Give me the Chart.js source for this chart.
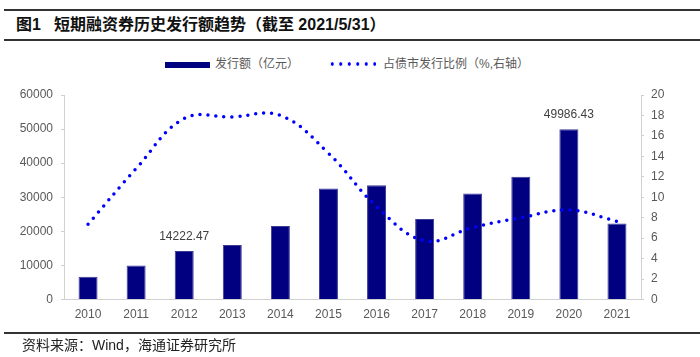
<!DOCTYPE html>
<html>
<head>
<meta charset="utf-8">
<script src="https://cdn.jsdelivr.net/npm/chart.js@4.4.1/dist/chart.umd.min.js"></script>
<style>
  html, body { margin: 0; padding: 0; background: #fff; }
  #wrap { position: relative; width: 700px; height: 357px; overflow: hidden; background: #fff; }
  #c { position: absolute; left: 0; top: 0; }
  .rule { position: absolute; left: 4px; right: 0; height: 2px; background: #333; }
  #title { position: absolute; left: 16px; top: 14px; height: 22px; line-height: 22px;
           font-family: "Liberation Sans", "Noto Sans CJK SC", sans-serif; font-weight: 700; font-size: 16px; color: #111; white-space: nowrap; }
  #title .num { margin-right: 13px; }
  #source { position: absolute; left: 22px; top: 336px; line-height: 18px;
            font-family: "Liberation Sans", "Noto Sans CJK SC", sans-serif; font-size: 14px; color: #222; white-space: nowrap; }
  .leg { position: absolute; font-family: "Liberation Sans", "Noto Sans CJK SC", sans-serif; font-size: 12px; color: #595959; white-space: nowrap; line-height: 16px; }
  #legBar { position: absolute; left: 165px; top: 62px; width: 45px; height: 6px; background: #000080; }
  #legDot { position: absolute; left: 328px; top: 62px; width: 48px; height: 4px;
            background-image: radial-gradient(circle, #0000ff 1.5px, transparent 1.9px);
            background-size: 8.5px 4px; background-repeat: repeat-x; }
</style>
</head>
<body>
<div id="wrap">
  <div class="rule" style="top:9px;"></div>
  <div id="title"><span class="num">图1</span>短期融资券历史发行额趋势（截至 2021/5/31）</div>
  <div class="rule" style="top:39px;"></div>
  <div id="legBar"></div>
  <div class="leg" style="left:215px; top:56px;">发行额（亿元）</div>
  <div id="legDot"></div>
  <div class="leg" style="left:383px; top:56px;">占债市发行比例（%,右轴）</div>
  <canvas id="c" width="700" height="357"></canvas>
  <div class="rule" style="top:332px;"></div>
  <div id="source">资料来源：Wind，海通证券研究所</div>
</div>
<script>
const categories = ['2010','2011','2012','2013','2014','2015','2016','2017','2018','2019','2020','2021'];
const issuance = [6700, 10000, 14222.47, 16000, 21600, 32600, 33500, 23600, 31100, 36000, 49986.43, 22300];
const sharePct = [7.35, 12.8, 17.7, 17.85, 18.0, 14.3, 9.1, 5.75, 7.05, 8.0, 8.75, 7.65];
const leftTicks = [0, 10000, 20000, 30000, 40000, 50000, 60000];
const rightTicks = [0, 2, 4, 6, 8, 10, 12, 14, 16, 18, 20];
const labeledBars = [2, 10];

const tickFont = { family: '"Liberation Sans", Arial, sans-serif', size: 12 };
const tickColor = '#595959';
const axisColor = '#d0d0d0';

const barLabels = {
  id: 'barLabels',
  afterDatasetsDraw(chart) {
    const ctx = chart.ctx;
    const meta = chart.getDatasetMeta(1);
    ctx.save();
    ctx.font = '12px "Liberation Sans", Arial, sans-serif';
    ctx.fillStyle = '#404040';
    ctx.textAlign = 'center';
    ctx.textBaseline = 'middle';
    labeledBars.forEach(i => {
      const el = meta.data[i];
      ctx.fillText(issuance[i].toFixed(2), el.x, el.y - 14);
    });
    ctx.restore();
  }
};

new Chart(document.getElementById('c'), {
  data: {
    labels: categories,
    datasets: [
      {
        type: 'line',
        label: '占债市发行比例（%,右轴）',
        data: sharePct,
        yAxisID: 'y1',
        borderColor: '#0000ff',
        borderWidth: 3.5,
        borderDash: [0, 8],
        borderCapStyle: 'round',
        tension: 0.4,
        pointRadius: 0,
        fill: false,
        order: 0
      },
      {
        type: 'bar',
        label: '发行额（亿元）',
        data: issuance,
        yAxisID: 'y',
        backgroundColor: '#000080',
        borderColor: '#3b3b96',
        borderWidth: 1,
        categoryPercentage: 1.0,
        barPercentage: 0.395,
        order: 1
      }
    ]
  },
  options: {
    responsive: false,
    animation: false,
    devicePixelRatio: 1,
    layout: { padding: { top: 95, left: 0, right: 0, bottom: 0 } },
    plugins: { legend: { display: false }, tooltip: { enabled: false } },
    scales: {
      x: {
        grid: { display: true, drawOnChartArea: false, drawTicks: false },
        border: { display: true, color: axisColor, width: 1 },
        ticks: { font: tickFont, color: tickColor, padding: 8, maxRotation: 0, autoSkip: false },
        afterFit(s) { s.height = 57.5; }
      },
      y: {
        position: 'left',
        min: 0, max: 60000,
        afterBuildTicks(s) { s.ticks = leftTicks.map(v => ({ value: v })); },
        grid: { display: true, drawOnChartArea: false, drawTicks: true, tickLength: 3, color: axisColor },
        border: { display: true, color: axisColor, width: 1 },
        ticks: { font: tickFont, color: tickColor, padding: 8, callback: v => String(v) },
        afterFit(s) { s.width = 64; }
      },
      y1: {
        position: 'right',
        min: 0, max: 20,
        afterBuildTicks(s) { s.ticks = rightTicks.map(v => ({ value: v })); },
        grid: { display: true, drawOnChartArea: false, drawTicks: true, tickLength: 3, color: axisColor },
        border: { display: true, color: axisColor, width: 1 },
        ticks: { font: tickFont, color: tickColor, padding: 7, callback: v => String(v) },
        afterFit(s) { s.width = 59; }
      }
    }
  },
  plugins: [barLabels]
});
</script>
</body>
</html>
